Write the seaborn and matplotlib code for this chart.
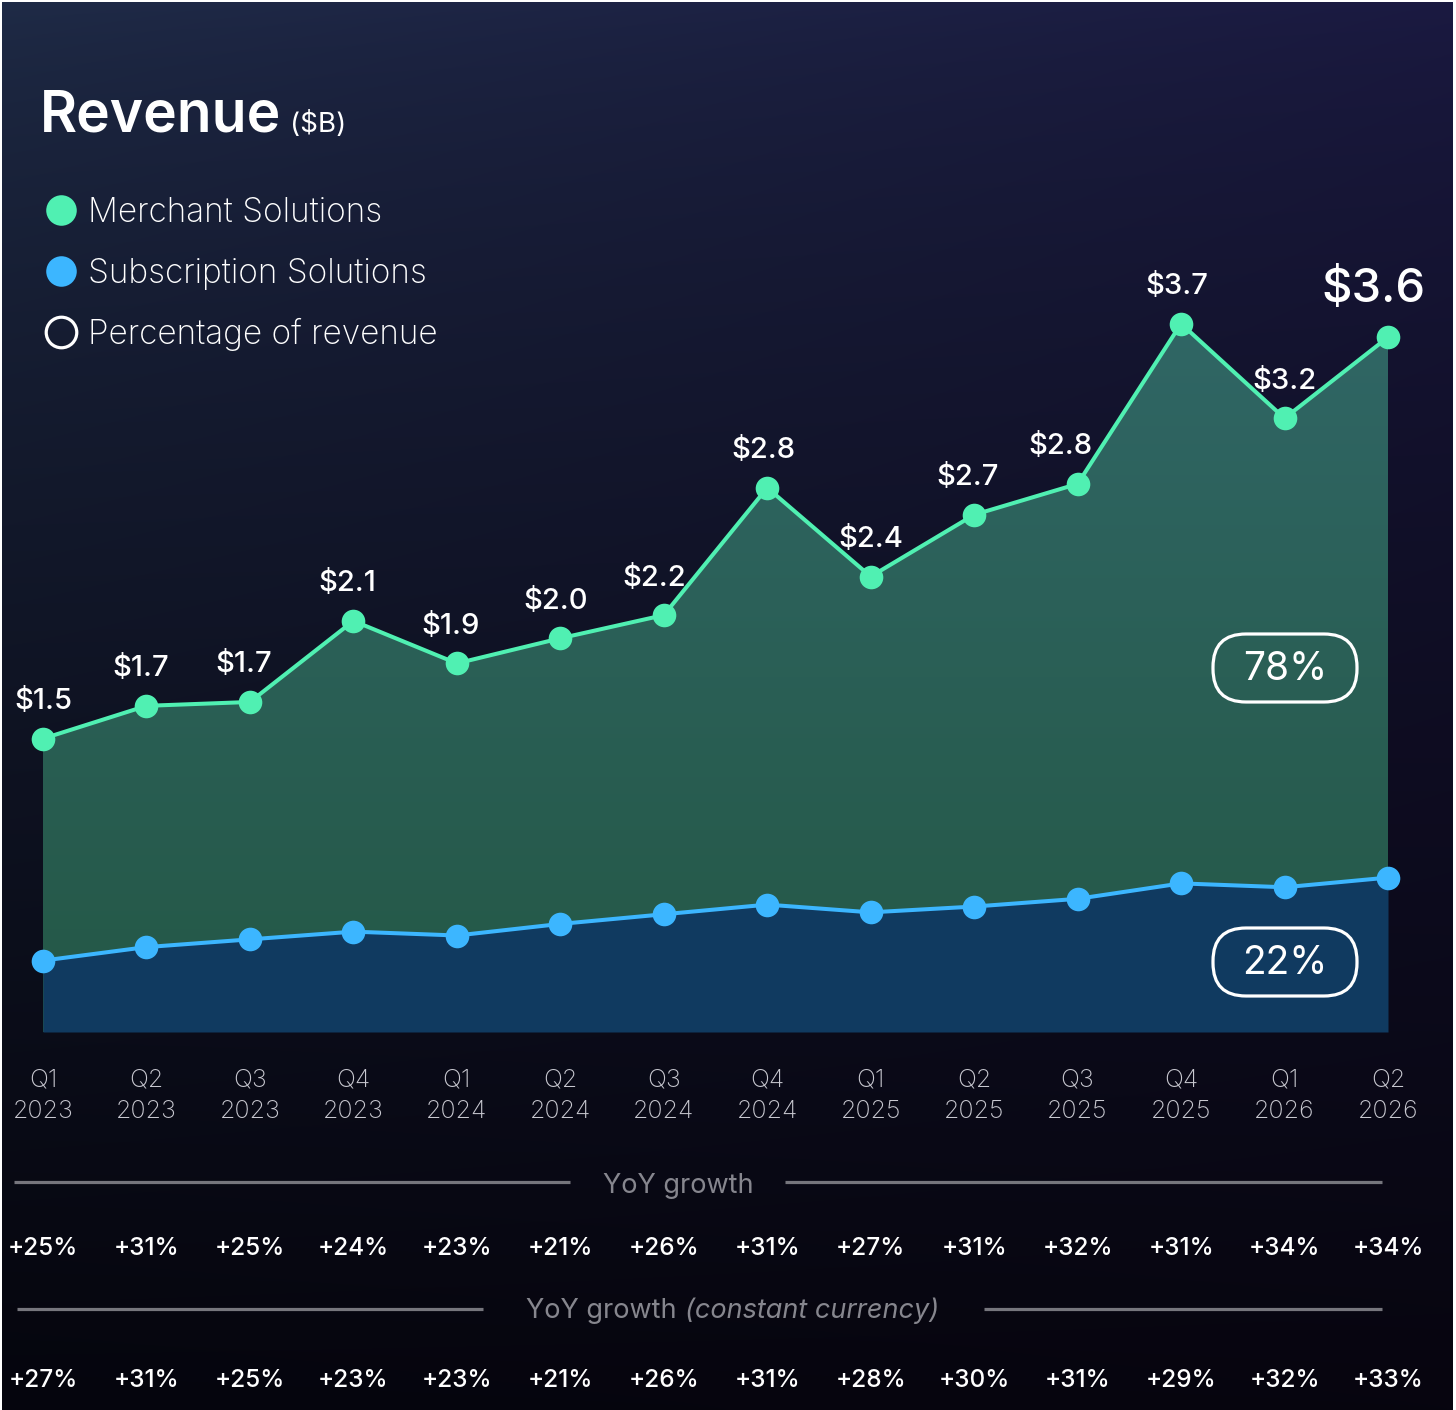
import numpy as np
import pandas as pd
import seaborn as sns
import matplotlib.pyplot as plt
import matplotlib.transforms as mtransforms
from matplotlib.patches import FancyBboxPatch
from matplotlib.colors import to_rgb

# ---------------- data ----------------
quarters = ["Q1\n2023", "Q2\n2023", "Q3\n2023", "Q4\n2023",
            "Q1\n2024", "Q2\n2024", "Q3\n2024", "Q4\n2024",
            "Q1\n2025", "Q2\n2025", "Q3\n2025", "Q4\n2025",
            "Q1\n2026", "Q2\n2026"]
merchant = [1.52, 1.69, 1.71, 2.13, 1.91, 2.04, 2.16, 2.82, 2.36, 2.68, 2.84, 3.67, 3.18, 3.60]
subscription = [0.37, 0.44, 0.48, 0.52, 0.50, 0.56, 0.61, 0.66, 0.62, 0.65, 0.69, 0.77, 0.75, 0.80]
yoy_growth = ["+25%", "+31%", "+25%", "+24%", "+23%", "+21%", "+26%",
              "+31%", "+27%", "+31%", "+32%", "+31%", "+34%", "+34%"]
yoy_growth_cc = ["+27%", "+31%", "+25%", "+23%", "+23%", "+21%", "+26%",
                 "+31%", "+28%", "+30%", "+31%", "+29%", "+32%", "+33%"]
share_merchant = "78%"
share_subscription = "22%"

df = pd.DataFrame({"idx": np.arange(len(quarters)), "quarter": quarters,
                   "merchant": merchant, "subscription": subscription})

# ---------------- style ----------------
sns.set_theme(style="white")
plt.rcParams['font.family'] = ['Inter', 'DejaVu Sans']

GREEN = "#50f0b2"
BLUE = "#3cb6ff"
BLUE_FILL = "#103a60"
GRAY_TXT = "#86868e"
TICK_TXT = "#c8c8d0"
SEP = "#76767d"

W, H = 1456, 1410
fig = plt.figure(figsize=(W / 100, H / 100), dpi=100, facecolor="white")

# background gradient
bg = fig.add_axes([2 / W, 0, (W - 5) / W, (H - 2) / H], zorder=-10)
bg.axis("off")
ny, nx = 300, 300
t = np.linspace(0, 1, ny)[:, None] ** 0.7
s = np.linspace(0, 1, nx)[None, :]
c00, c01 = np.array(to_rgb("#1f2b47")), np.array(to_rgb("#1b1a42"))
c10, c11 = np.array(to_rgb("#05050d")), np.array(to_rgb("#07050f"))
top = (1 - s)[..., None] * c00 + s[..., None] * c01
bot = (1 - s)[..., None] * c10 + s[..., None] * c11
img = (1 - t)[..., None] * top + t[..., None] * bot
bg.imshow(img, aspect="auto", extent=[0, 1, 0, 1], interpolation="bicubic")
bg.set_xlim(0, 1); bg.set_ylim(0, 1)

# overlay in pixel coordinates (for layout text)
ov = fig.add_axes([0, 0, 1, 1], zorder=5)
ov.set_xlim(0, W); ov.set_ylim(H, 0)
ov.axis("off")
ov.patch.set_alpha(0)

# main axes
PX_PER_UNIT = 193
ax = fig.add_axes([43 / W, (H - 1032) / H, 1345 / W, 972 / H], zorder=2)
ymax = 972 / PX_PER_UNIT
ax.patch.set_alpha(0)
for sp in ax.spines.values():
    sp.set_visible(False)

# green gradient area
poly = ax.fill_between(df["idx"], df["merchant"], 0, color="none", linewidth=0)
gy = np.linspace(1, 0, 200)[:, None]
gtop, gbot = np.array(to_rgb("#306665")), np.array(to_rgb("#245846"))
gimg = (1 - gy)[..., None] * gbot + gy[..., None] * gtop
gimg = np.repeat(gimg, 2, axis=1)
im = ax.imshow(gimg, extent=[0, len(quarters) - 1, 0, max(merchant)], aspect="auto", zorder=1)
im.set_clip_path(poly.get_paths()[0], transform=ax.transData)

# blue area
ax.fill_between(df["idx"], df["subscription"], 0, color=BLUE_FILL, linewidth=0, zorder=2)

# lines
sns.lineplot(data=df, x="idx", y="merchant", ax=ax, color=GREEN, linewidth=2.9,
             marker="o", markersize=17, markeredgewidth=0, legend=False, zorder=4, clip_on=False)
sns.lineplot(data=df, x="idx", y="subscription", ax=ax, color=BLUE, linewidth=2.9,
             marker="o", markersize=17, markeredgewidth=0, legend=False, zorder=4, clip_on=False)

ax.set_xlim(0, len(quarters) - 1)
ax.set_ylim(0, ymax)
ax.set_xlabel(""); ax.set_ylabel("")
ax.set_yticks([])
ax.set_xticks(df["idx"])
ax.set_xticklabels(quarters, fontsize=18, color=TICK_TXT, fontweight="light", linespacing=1.5)
ax.tick_params(axis="x", length=0, pad=26)

# value labels
n = len(merchant)
label_shift = [0, -6, -6, -6, -6, -5, -10, -4, 0, -7, -17, -4, 0, -15]
for i, v in enumerate(merchant):
    last = i == n - 1
    ax.annotate(f"${v:.1f}", (i, v), xytext=(label_shift[i], 47 if last else 37),
                textcoords="offset pixels", ha="center", va="center",
                fontsize=34 if last else 21, color="white", fontweight="medium",
                zorder=6, annotation_clip=False)

# percentage pills
for cy, txt in [(668, share_merchant), (962, share_subscription)]:
    ov.add_patch(FancyBboxPatch((1213, cy - 34), 144, 68,
                                boxstyle="round,pad=0,rounding_size=33",
                                facecolor="none", edgecolor="white", linewidth=2.3))
    ov.text(1285, cy + 1, txt, ha="center", va="center", fontsize=28, color="white")

# title
title = ov.text(40, 132, "Revenue", ha="left", va="baseline", fontsize=41,
                color="white", fontweight="semibold")
ov.annotate("($B)", xy=(1, 132), xycoords=(title, "data"), xytext=(9, 0),
            textcoords="offset pixels", ha="left", va="baseline", fontsize=20, color="white")

# legend
legend_items = [("Merchant Solutions", 222, dict(color=GREEN, markeredgewidth=0)),
                ("Subscription Solutions", 283, dict(color=BLUE, markeredgewidth=0)),
                ("Percentage of revenue", 344, dict(markerfacecolor="none", markeredgecolor="white",
                                                    markeredgewidth=2.3))]
for label, base, mkw in legend_items:
    ov.plot([61], [base - 12], "o", markersize=22, **mkw)
    ov.text(88, base, label, ha="left", va="baseline", fontsize=24, color="white",
            fontweight="light")

# growth rows
trans = mtransforms.blended_transform_factory(ax.transData, ov.transData)
ov.plot([14, 570], [1182, 1182], color=SEP, linewidth=2.3, solid_capstyle="butt")
ov.plot([785, 1382], [1182, 1182], color=SEP, linewidth=2.3, solid_capstyle="butt")
ov.text(678, 1193, "YoY growth", ha="center", va="baseline", fontsize=19.5, color=GRAY_TXT)

ov.plot([17, 483], [1309, 1309], color=SEP, linewidth=2.3, solid_capstyle="butt")
ov.plot([984, 1382], [1309, 1309], color=SEP, linewidth=2.3, solid_capstyle="butt")
t1 = ov.text(526, 1318, "YoY growth", ha="left", va="baseline", fontsize=19.5, color=GRAY_TXT)
ov.annotate("(constant currency)", xy=(1, 0), xycoords=t1, xytext=(8, 0),
            textcoords="offset pixels", ha="left", va="bottom", fontsize=19.5,
            color=GRAY_TXT, style="italic")

for i, (g1, g2) in enumerate(zip(yoy_growth, yoy_growth_cc)):
    ax.text(i, 1255, g1, transform=trans, ha="center", va="baseline", fontsize=17.5,
            color="white", fontweight="medium", clip_on=False)
    ax.text(i, 1387, g2, transform=trans, ha="center", va="baseline", fontsize=17.5,
            color="white", fontweight="medium", clip_on=False)

fig.savefig("out.png", dpi=100, facecolor=fig.get_facecolor())
